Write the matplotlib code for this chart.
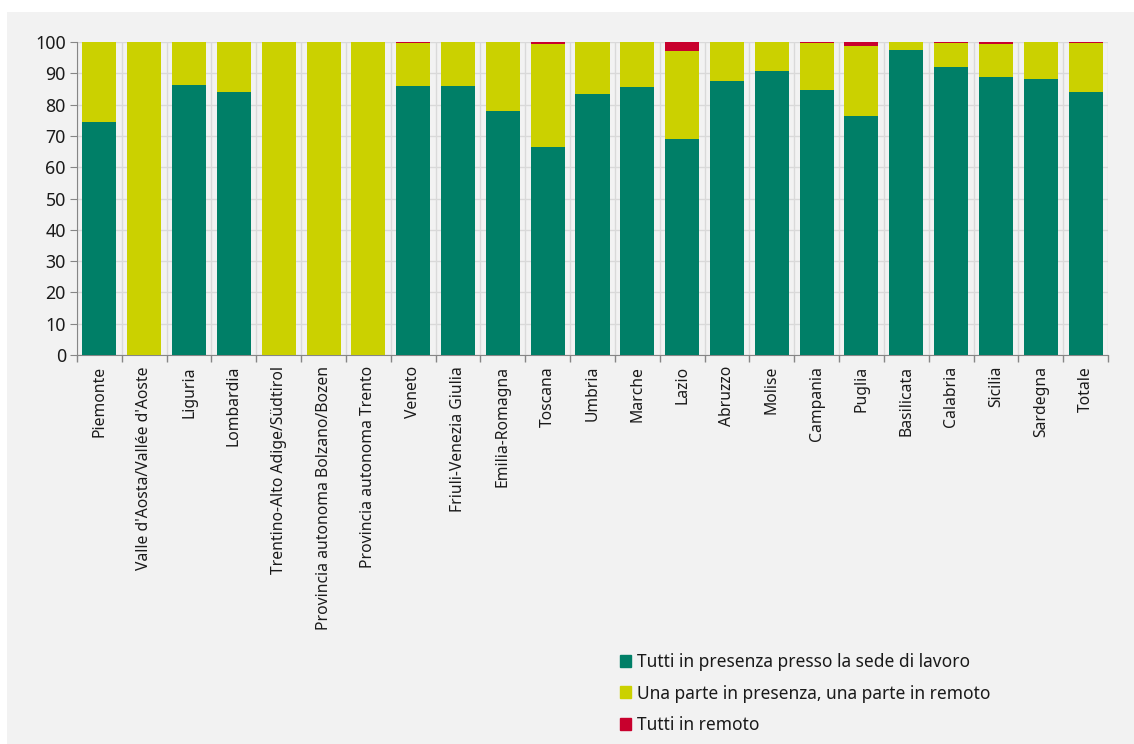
import numpy as np
import matplotlib.pyplot as plt
from matplotlib.patches import Patch, Rectangle

# categorie e valori (percentuali)
regioni = ["Piemonte", "Valle d'Aosta/Vallée d'Aoste", "Liguria", "Lombardia",
           "Trentino-Alto Adige/Südtirol", "Provincia autonoma Bolzano/Bozen",
           "Provincia autonoma Trento", "Veneto", "Friuli-Venezia Giulia",
           "Emilia-Romagna", "Toscana", "Umbria", "Marche", "Lazio", "Abruzzo",
           "Molise", "Campania", "Puglia", "Basilicata", "Calabria", "Sicilia",
           "Sardegna", "Totale"]
tutti_presenza = [74.5, 0.0, 86.3, 84.1, 0.0, 0.0, 0.0, 85.8, 86.0, 78.0, 66.3,
                  83.4, 85.5, 69.1, 87.6, 90.8, 84.8, 76.5, 97.3, 91.9, 88.7,
                  88.3, 84.1]
tutti_remoto = [0.0, 0.0, 0.0, 0.0, 0.0, 0.0, 0.0, 0.3, 0.0, 0.0, 0.7,
                0.0, 0.0, 2.8, 0.0, 0.0, 0.3, 1.3, 0.0, 0.2, 0.6,
                0.0, 0.3]
parte_remoto = [100 - a - b for a, b in zip(tutti_presenza, tutti_remoto)]

serie_nomi = ["Tutti in presenza presso la sede di lavoro",
              "Una parte in presenza, una parte in remoto",
              "Tutti in remoto"]
colori = ["#007f67", "#cbd100", "#c8002d"]

plt.rcParams['font.family'] = ['Noto Sans', 'DejaVu Sans']

fig = plt.figure(figsize=(11.34, 7.44), dpi=100)
fig.patches.append(Rectangle((7/1134, 0), 1, 1 - 12/744, transform=fig.transFigure,
                             facecolor="#f2f2f2", edgecolor="none", zorder=-10))
ax = fig.add_axes([77/1134, 1 - 355/744, (1108 - 77)/1134, (355 - 42)/744])
ax.set_facecolor("#f2f2f2")

x = np.arange(len(regioni))
w = 0.76
ax.bar(x, tutti_presenza, w, color=colori[0], zorder=3)
ax.bar(x, parte_remoto, w, bottom=tutti_presenza, color=colori[1], zorder=3)
bott = [a + b for a, b in zip(tutti_presenza, parte_remoto)]
ax.bar(x, tutti_remoto, w, bottom=bott, color=colori[2], zorder=3)

ax.set_xlim(-0.5, len(regioni) - 0.5)
ax.set_ylim(0, 100)
ax.set_yticks(np.arange(0, 101, 10))
ax.set_xticks(x)
ax.set_xticklabels(regioni, rotation=90, fontsize=11.3, color="#1a1a1a")
ax.tick_params(axis='x', length=0, pad=8)
ax.set_xticks(np.arange(-0.5, len(regioni), 1), minor=True)
ax.tick_params(axis='x', which='minor', length=5, color="#868686", width=1)
ax.tick_params(axis='y', length=5, color="#868686", labelsize=12.8, labelcolor="#1a1a1a", pad=3)

ax.grid(axis='y', color="#d9d9d9", linewidth=1, zorder=0)
ax.grid(axis='x', which='minor', color="#d9d9d9", linewidth=1, zorder=0)
for s in ["top", "right"]:
    ax.spines[s].set_visible(False)
for s in ["left", "bottom"]:
    ax.spines[s].set_color("#868686")

handles = [Patch(color=c) for c in colori]
fig.legend(handles, serie_nomi, loc="upper left", bbox_to_anchor=(604/1134, 1 - 637/744),
           frameon=False, fontsize=12.5, handlelength=0.68, handleheight=0.68,
           handletextpad=0.32, labelspacing=0.8, labelcolor="#1a1a1a")

fig.savefig("out.png", dpi=100, facecolor="white")
